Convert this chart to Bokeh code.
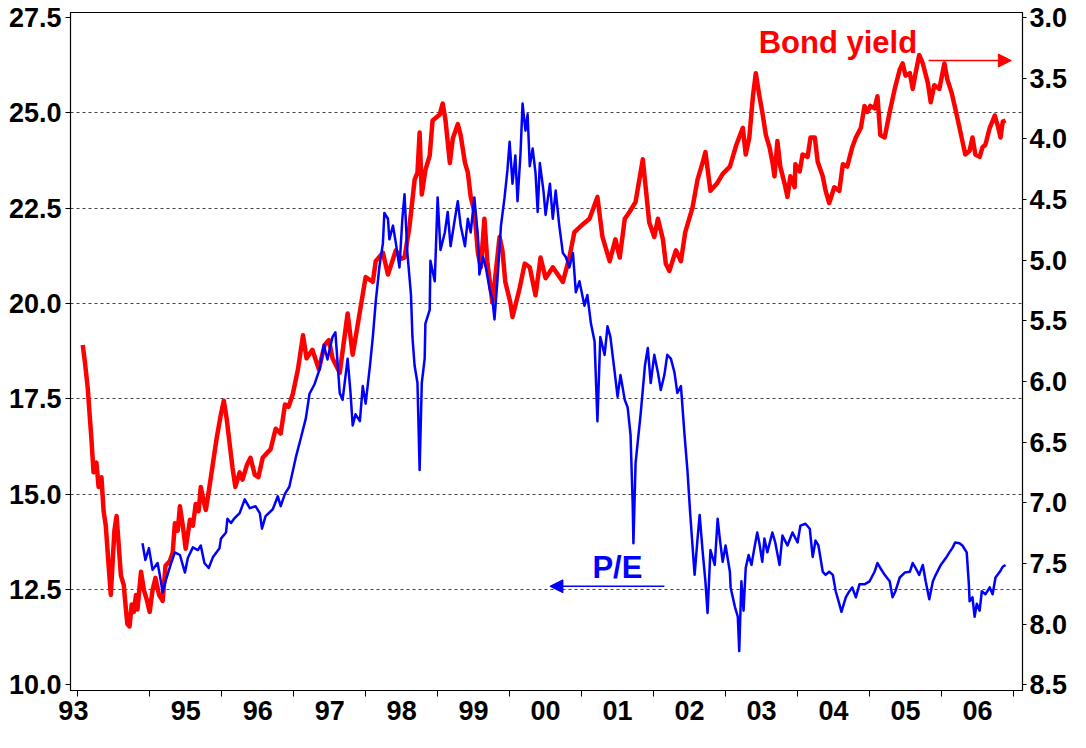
from bokeh.plotting import figure
from bokeh.models import (Range1d, LinearAxis, FixedTicker, NumeralTickFormatter,
                          CustomJSTickFormatter, Label, Arrow, NormalHead)
from bokeh.embed import file_html
from bokeh.resources import INLINE

# ---------------- data ----------------
# Bond yield (%), plotted on the inverted right axis
bond_t = [1994.07, 1994.10, 1994.14, 1994.17, 1994.19, 1994.22, 1994.26, 1994.29, 1994.33, 1994.36,
          1994.39, 1994.43, 1994.46, 1994.49, 1994.51, 1994.54, 1994.57, 1994.60, 1994.64, 1994.67,
          1994.69, 1994.72, 1994.75, 1994.78, 1994.81, 1994.83, 1994.88, 1994.92, 1994.96, 1995.00,
          1995.04, 1995.08, 1995.13, 1995.18, 1995.22, 1995.28, 1995.32, 1995.35, 1995.39, 1995.42,
          1995.46, 1995.50, 1995.56, 1995.60, 1995.64, 1995.68, 1995.71, 1995.75, 1995.78, 1995.83,
          1995.88, 1995.93, 1995.99, 1996.03, 1996.07, 1996.11, 1996.15, 1996.19, 1996.25, 1996.29,
          1996.35, 1996.40, 1996.46, 1996.51, 1996.57, 1996.63, 1996.68, 1996.75, 1996.82, 1996.88,
          1996.93, 1996.99, 1997.06, 1997.13, 1997.18, 1997.26, 1997.35, 1997.43, 1997.49, 1997.54,
          1997.64, 1997.75, 1997.82, 1997.86, 1998.00, 1998.10, 1998.14, 1998.24, 1998.31, 1998.42,
          1998.49, 1998.54, 1998.61, 1998.68, 1998.72, 1998.75, 1998.78, 1998.83, 1998.89, 1998.93,
          1999.03, 1999.07, 1999.11, 1999.17, 1999.21, 1999.28, 1999.32, 1999.38, 1999.42, 1999.46,
          1999.51, 1999.56, 1999.60, 1999.65, 1999.69, 1999.76, 1999.81, 1999.86, 1999.90, 1999.94,
          2000.01, 2000.04, 2000.14, 2000.21, 2000.28, 2000.36, 2000.43, 2000.50, 2000.60, 2000.74,
          2000.83, 2000.90, 2000.99, 2001.11, 2001.22, 2001.29, 2001.39, 2001.47, 2001.53, 2001.60,
          2001.67, 2001.75, 2001.85, 2001.89, 2001.94, 2002.01, 2002.06, 2002.13, 2002.17, 2002.22,
          2002.31, 2002.38, 2002.44, 2002.54, 2002.61, 2002.68, 2002.72, 2002.79, 2002.88, 2002.96,
          2003.06, 2003.15, 2003.24, 2003.28, 2003.33, 2003.38, 2003.42, 2003.47, 2003.51, 2003.56,
          2003.61, 2003.65, 2003.68, 2003.72, 2003.76, 2003.82, 2003.86, 2003.90, 2003.96, 2003.97,
          2004.03, 2004.07, 2004.14, 2004.18, 2004.24, 2004.28, 2004.35, 2004.39, 2004.44, 2004.51,
          2004.58, 2004.63, 2004.69, 2004.76, 2004.81, 2004.88, 2004.93, 2004.97, 2005.01, 2005.07,
          2005.11, 2005.15, 2005.21, 2005.28, 2005.35, 2005.42, 2005.46, 2005.50, 2005.56, 2005.60,
          2005.64, 2005.69, 2005.74, 2005.81, 2005.85, 2005.90, 2005.97, 2006.04, 2006.08, 2006.14,
          2006.19, 2006.25, 2006.29, 2006.33, 2006.39, 2006.43, 2006.47, 2006.53, 2006.57, 2006.61,
          2006.67, 2006.74, 2006.78, 2006.82, 2006.85, 2006.89]
bond_yield = [5.70, 5.84, 6.06, 6.31, 6.47, 6.75, 6.67, 6.87, 6.79, 7.07,
              7.19, 7.52, 7.76, 7.44, 7.23, 7.11, 7.35, 7.60, 7.68, 7.88,
              8.00, 8.02, 7.84, 7.90, 7.76, 7.88, 7.57, 7.72, 7.80, 7.90,
              7.72, 7.62, 7.76, 7.81, 7.52, 7.48, 7.41, 7.17, 7.23, 7.03,
              7.19, 7.38, 7.14, 7.19, 7.01, 7.07, 6.87, 6.99, 7.06, 6.87,
              6.67, 6.47, 6.27, 6.16, 6.31, 6.51, 6.71, 6.87, 6.75, 6.81,
              6.69, 6.63, 6.77, 6.79, 6.63, 6.59, 6.56, 6.39, 6.43, 6.19,
              6.21, 6.10, 5.90, 5.62, 5.81, 5.74, 5.90, 5.70, 5.66, 5.81,
              5.93, 5.44, 5.78, 5.64, 5.14, 5.18, 5.01, 4.94, 5.12, 4.92,
              4.99, 4.98, 4.72, 4.34, 4.28, 3.95, 4.46, 4.26, 4.14, 3.85,
              3.80, 3.71, 3.85, 4.20, 4.00, 3.88, 3.97, 4.20, 4.28, 4.48,
              4.60, 4.94, 5.06, 4.66, 5.01, 5.35, 5.09, 4.81, 4.92, 5.18,
              5.35, 5.47, 5.23, 5.03, 5.06, 5.29, 4.98, 5.15, 5.06, 5.18,
              4.98, 4.77, 4.72, 4.66, 4.48, 4.81, 5.01, 4.83, 4.98, 4.66,
              4.60, 4.52, 4.17, 4.40, 4.69, 4.81, 4.66, 4.83, 5.03, 5.09,
              4.92, 5.01, 4.77, 4.57, 4.34, 4.20, 4.11, 4.43, 4.37, 4.29,
              4.23, 4.05, 3.91, 4.13, 3.99, 3.65, 3.46, 3.65, 3.78, 3.97,
              4.07, 4.19, 4.31, 4.02, 4.23, 4.37, 4.48, 4.31, 4.40, 4.21,
              4.27, 4.13, 4.15, 3.99, 3.99, 4.19, 4.31, 4.43, 4.53, 4.40,
              4.43, 4.21, 4.23, 4.07, 3.99, 3.91, 3.73, 3.78, 3.73, 3.75,
              3.65, 3.97, 3.99, 3.78, 3.59, 3.43, 3.38, 3.48, 3.46, 3.59,
              3.46, 3.31, 3.38, 3.54, 3.70, 3.56, 3.59, 3.38, 3.51, 3.62,
              3.75, 3.91, 4.02, 4.13, 4.10, 3.99, 4.13, 4.15, 4.07, 4.05,
              3.91, 3.81, 3.89, 3.99, 3.86, 3.85]

# Price / earnings ratio, plotted on the left axis
pe_t = [1994.90, 1994.94, 1994.99, 1995.04, 1995.11, 1995.14, 1995.18, 1995.22, 1995.29, 1995.35,
        1995.42, 1995.49, 1995.53, 1995.60, 1995.67, 1995.71, 1995.76, 1995.82, 1995.88, 1995.97,
        1995.99, 1996.06, 1996.08, 1996.13, 1996.18, 1996.25, 1996.32, 1996.39, 1996.47, 1996.53,
        1996.56, 1996.61, 1996.71, 1996.78, 1996.82, 1996.88, 1996.94, 1997.03, 1997.10, 1997.17,
        1997.22, 1997.29, 1997.36, 1997.42, 1997.47, 1997.54, 1997.58, 1997.64, 1997.68, 1997.75,
        1997.79, 1997.82, 1997.86, 1997.92, 1997.96, 1998.00, 1998.06, 1998.10, 1998.14, 1998.19,
        1998.24, 1998.26, 1998.31, 1998.33, 1998.38, 1998.42, 1998.47, 1998.51, 1998.54, 1998.58,
        1998.63, 1998.65, 1998.68, 1998.72, 1998.75, 1998.78, 1998.82, 1998.83, 1998.89, 1998.90,
        1998.96, 1999.00, 1999.04, 1999.10, 1999.14, 1999.18, 1999.24, 1999.28, 1999.32, 1999.38,
        1999.42, 1999.46, 1999.51, 1999.56, 1999.58, 1999.63, 1999.67, 1999.72, 1999.76, 1999.79,
        1999.83, 1999.88, 1999.93, 1999.97, 2000.00, 2000.04, 2000.08, 2000.11, 2000.15, 2000.18,
        2000.22, 2000.25, 2000.28, 2000.32, 2000.36, 2000.39, 2000.42, 2000.47, 2000.50, 2000.56,
        2000.60, 2000.64, 2000.69, 2000.74, 2000.78, 2000.83, 2000.88, 2000.92, 2000.97, 2001.04,
        2001.08, 2001.13, 2001.18, 2001.22, 2001.26, 2001.32, 2001.36, 2001.40, 2001.46, 2001.50,
        2001.54, 2001.60, 2001.64, 2001.68, 2001.71, 2001.72, 2001.75, 2001.78, 2001.82, 2001.88,
        2001.92, 2001.96, 2002.01, 2002.06, 2002.10, 2002.15, 2002.19, 2002.24, 2002.29, 2002.33,
        2002.38, 2002.43, 2002.47, 2002.51, 2002.57, 2002.61, 2002.64, 2002.68, 2002.72, 2002.75,
        2002.79, 2002.85, 2002.89, 2002.92, 2002.96, 2003.00, 2003.06, 2003.07, 2003.13, 2003.17,
        2003.19, 2003.22, 2003.25, 2003.28, 2003.32, 2003.36, 2003.40, 2003.44, 2003.47, 2003.51,
        2003.54, 2003.58, 2003.65, 2003.69, 2003.75, 2003.79, 2003.86, 2003.93, 2004.00, 2004.04,
        2004.11, 2004.17, 2004.21, 2004.25, 2004.29, 2004.35, 2004.39, 2004.44, 2004.49, 2004.53,
        2004.58, 2004.61, 2004.67, 2004.72, 2004.76, 2004.81, 2004.86, 2004.93, 2005.00, 2005.07,
        2005.11, 2005.15, 2005.21, 2005.28, 2005.32, 2005.36, 2005.42, 2005.49, 2005.56, 2005.60,
        2005.64, 2005.69, 2005.74, 2005.78, 2005.83, 2005.88, 2005.92, 2005.99, 2006.06, 2006.11,
        2006.15, 2006.19, 2006.25, 2006.29, 2006.35, 2006.38, 2006.39, 2006.43, 2006.46, 2006.49,
        2006.53, 2006.56, 2006.61, 2006.67, 2006.71, 2006.75, 2006.81, 2006.85, 2006.89]
pe_ratio = [13.71, 13.27, 13.58, 13.01, 13.19, 12.88, 12.42, 12.71, 13.14, 13.47,
            13.40, 12.94, 13.32, 13.60, 13.53, 13.65, 13.19, 13.06, 13.35, 13.58,
            13.83, 13.99, 14.35, 14.24, 14.37, 14.50, 14.86, 14.63, 14.68, 14.50,
            14.09, 14.42, 14.60, 14.94, 14.68, 15.01, 15.19, 15.96, 16.47, 16.99,
            17.63, 17.88, 18.27, 18.91, 18.53, 19.12, 19.24, 17.65, 17.47, 18.55,
            17.65, 16.80, 17.09, 16.91, 17.83, 17.37, 18.37, 19.12, 20.04, 20.94,
            21.58, 22.37, 22.22, 21.68, 22.04, 21.58, 20.94, 22.22, 22.86, 21.32,
            20.22, 19.12, 18.37, 17.91, 15.63, 17.91, 18.55, 19.47, 19.83, 21.12,
            20.58, 22.78, 21.40, 21.86, 22.40, 21.50, 22.22, 22.68, 22.04, 21.50,
            22.22, 21.86, 22.78, 21.76, 20.76, 21.22, 20.94, 20.40, 20.12, 19.58,
            20.58, 22.04, 22.78, 23.50, 24.24, 23.14, 23.88, 22.68, 23.88, 25.24,
            24.53, 24.96, 23.60, 24.06, 23.42, 22.40, 23.68, 22.96, 22.32, 23.14,
            22.22, 22.96, 22.04, 21.32, 21.22, 20.94, 21.32, 20.29, 20.58, 19.94,
            20.22, 19.47, 19.01, 16.91, 19.12, 18.65, 19.40, 19.12, 18.19, 17.55,
            18.12, 17.47, 17.27, 16.55, 14.71, 13.71, 15.81, 16.37, 17.09, 18.37,
            18.83, 17.91, 18.65, 18.19, 17.73, 18.12, 18.65, 18.55, 18.19, 17.65,
            17.83, 16.55, 15.63, 14.45, 12.88, 13.81, 14.45, 13.53, 12.71, 11.88,
            13.53, 13.14, 14.35, 13.83, 13.22, 13.65, 12.96, 12.55, 12.04, 11.78,
            10.88, 12.71, 11.94, 13.06, 13.40, 13.14, 13.58, 13.99, 13.71, 13.22,
            13.83, 13.47, 13.99, 13.73, 13.14, 13.91, 13.65, 13.99, 13.73, 14.17,
            14.22, 14.09, 13.35, 13.78, 13.65, 12.96, 12.88, 12.96, 12.88, 12.45,
            12.12, 11.91, 12.29, 12.45, 12.55, 12.29, 12.63, 12.63, 12.71, 12.96,
            13.19, 13.06, 12.88, 12.71, 12.29, 12.45, 12.81, 12.94, 12.96, 13.19,
            13.06, 12.88, 13.14, 12.71, 12.24, 12.71, 12.88, 13.14, 13.32, 13.47,
            13.58, 13.73, 13.71, 13.65, 13.47, 12.63, 12.19, 12.29, 11.78, 12.12,
            11.94, 12.45, 12.37, 12.55, 12.37, 12.81, 12.96, 13.09, 13.14]

# axis ticks and labels
pe_ticks = [10.0, 12.5, 15.0, 17.5, 20.0, 22.5, 25.0, 27.5]
grid_ticks = [12.5, 15.0, 17.5, 20.0, 22.5, 25.0]
yield_ticks = [3.0, 3.5, 4.0, 4.5, 5.0, 5.5, 6.0, 6.5, 7.0, 7.5, 8.0, 8.5]
year_bounds = [1994, 1995, 1996, 1997, 1998, 1999, 2000, 2001, 2002, 2003, 2004, 2005, 2006, 2007]
year_label_pos = [1993.94, 1995.5, 1996.5, 1997.5, 1998.5, 1999.5, 2000.5, 2001.5,
                  2002.5, 2003.5, 2004.5, 2005.5, 2006.5]
year_labels = ["93", "95", "96", "97", "98", "99", "00", "01", "02", "03", "04", "05", "06"]

FONT = "Liberation Sans"
TICK_SIZE = "27px"

p = figure(width=1070, height=732, output_backend="svg", toolbar_location=None,
           x_range=Range1d(1993.9, 2007.125), y_range=Range1d(9.846, 27.63),
           min_border_left=70, min_border_top=12, min_border_right=20, min_border_bottom=42)
p.extra_y_ranges = {"yld": Range1d(start=8.548, end=2.96)}

p.background_fill_color = "white"
p.border_fill_color = "white"
p.outline_line_color = "black"
p.outline_line_width = 1.2

# grid
p.xgrid.visible = False
p.ygrid.ticker = FixedTicker(ticks=grid_ticks)
p.ygrid.grid_line_color = "#444444"
p.ygrid.grid_line_dash = "3 3"
p.ygrid.grid_line_width = 1

# left axis
la = p.yaxis[0]
la.ticker = FixedTicker(ticks=pe_ticks)
la.formatter = NumeralTickFormatter(format="0.0")
la.major_label_text_font = FONT
la.major_label_text_font_style = "bold"
la.major_label_text_font_size = TICK_SIZE
la.major_label_text_color = "black"
la.major_tick_out = 5
la.major_tick_in = 0
la.minor_tick_line_color = None
la.axis_line_color = "black"
la.major_label_standoff = 4

# right axis
ra = LinearAxis(y_range_name="yld", ticker=FixedTicker(ticks=yield_ticks),
                formatter=NumeralTickFormatter(format="0.0"))
ra.major_label_text_font = FONT
ra.major_label_text_font_style = "bold"
ra.major_label_text_font_size = TICK_SIZE
ra.major_label_text_color = "black"
ra.major_tick_out = 4
ra.major_tick_in = 0
ra.minor_tick_line_color = None
ra.axis_line_color = "black"
ra.major_label_standoff = 3
p.add_layout(ra, "right")

# bottom axis
xa = p.xaxis[0]
xa.ticker = FixedTicker(ticks=year_label_pos, minor_ticks=year_bounds)
xa.formatter = CustomJSTickFormatter(
    args=dict(pos=year_label_pos, labs=year_labels),
    code="const i = pos.findIndex(v => Math.abs(v - tick) < 1e-6); return i >= 0 ? labs[i] : '';")
xa.major_tick_line_color = None
xa.minor_tick_out = 6
xa.minor_tick_in = 0
xa.minor_tick_line_color = "black"
xa.axis_line_color = "black"
xa.major_label_text_font = FONT
xa.major_label_text_font_style = "bold"
xa.major_label_text_font_size = TICK_SIZE
xa.major_label_text_color = "black"
xa.major_label_standoff = 4

# series
p.line(bond_t, bond_yield, y_range_name="yld", line_color="#FF0000", line_width=4.5,
       line_join="round")
p.line(pe_t, pe_ratio, line_color="#0000FF", line_width=2.5, line_join="round")

# annotations
p.add_layout(Label(x=2003.46, y=26.83, text="Bond yield", text_color="#FF0000",
                   text_font=FONT, text_font_style="bold", text_font_size="31px",
                   text_baseline="alphabetic"))
p.add_layout(Arrow(x_start=2005.82, y_start=26.37, x_end=2006.97, y_end=26.37,
                   line_color="#FF0000", line_width=1.5,
                   end=NormalHead(size=13, fill_color="#FF0000", line_color="#FF0000")))
p.add_layout(Label(x=2001.15, y=13.06, text="P/E", text_color="#0000FF",
                   text_font=FONT, text_font_style="bold", text_font_size="31px",
                   text_baseline="alphabetic"))
p.add_layout(Arrow(x_start=2002.15, y_start=12.58, x_end=2000.56, y_end=12.58,
                   line_color="#0000FF", line_width=1.5,
                   end=NormalHead(size=13, fill_color="#0000FF", line_color="#0000FF")))

open("out.html", "w").write(file_html(p, INLINE))
